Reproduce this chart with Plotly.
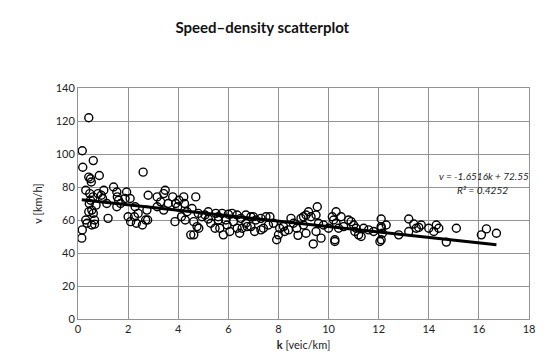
import plotly.graph_objects as go

density_k = [
    0.15, 0.17, 0.17, 0.19, 0.43, 0.31, 0.31, 0.36, 0.43, 0.5, 0.53, 0.61, 0.85, 0.43, 0.47, 0.5, 0.55, 0.61,
    0.66, 0.55, 0.66, 0.72, 0.8, 0.93, 0.98, 1.03, 0.45, 0.6,
    1.2, 1.15, 1.42, 1.55, 1.57, 1.55, 1.62, 1.88, 1.94, 2.0, 2.08, 2.1, 2.25, 2.28, 2.33, 2.6, 2.57, 2.75,
    2.78, 2.8, 2.7, 1.7, 2.4,
    3.16, 3.16, 3.42, 3.48, 3.42, 3.78, 3.87, 3.9, 3.98, 4.03, 4.13, 4.22, 4.28, 4.25, 4.5, 4.62, 4.7, 4.75,
    4.82, 4.55, 4.62, 4.95, 4.35, 4.8, 3.6, 3.3,
    5.07, 5.2, 5.47, 5.6, 5.66, 5.8, 5.95, 6.06, 5.5, 5.75, 6.0, 6.15, 6.35, 6.7, 6.2, 6.35, 6.55, 6.7, 6.75,
    6.9, 7.05, 7.3, 7.4, 7.1, 7.3, 7.5, 7.66, 7.93, 8.0, 8.05, 8.2, 8.25, 8.4, 8.5, 5.3, 5.9, 6.5, 7.0, 7.8,
    6.45, 7.6, 5.2, 5.6, 6.9,
    8.73, 8.78, 8.9, 9.0, 9.1, 9.2, 9.3, 9.5, 9.55, 9.39, 9.1, 9.5, 9.7, 10.15, 10.2, 10.3, 10.3, 10.25, 10.25,
    10.8, 10.9, 11.0, 11.05, 11.2, 11.4, 11.6, 12.1, 12.15, 12.05, 9.8, 10.0, 10.6, 11.3, 11.8, 8.6, 9.0,
    10.5, 11.1, 9.6, 10.4,
    12.1, 12.3, 12.1, 12.1, 12.8, 13.2, 13.2, 13.4, 13.5, 13.6, 13.7, 14.0, 14.2, 14.3, 14.4, 14.7, 15.1,
    16.1, 16.3, 16.7,
]
speed_v = [
    49, 54, 102, 92, 122, 78, 60, 58, 86, 85, 83, 96, 87, 65, 76, 72, 66, 64,
    60, 57, 57.5, 69, 76, 75, 73, 78, 70, 74,
    61, 70, 80, 77, 74, 68, 72, 73, 77, 62, 73, 59, 62, 68, 58, 89, 57, 66,
    60, 75, 60, 70, 64,
    74, 68, 76, 78, 66, 74, 59, 70, 68, 72, 62, 74, 60, 70, 51, 51, 74, 56,
    55, 67, 59, 62, 65, 64, 70, 71,
    63, 60.6, 55, 62, 55, 51, 57, 53, 64, 64, 63.5, 64, 63, 63, 59, 55, 55, 58, 56,
    56, 53, 54, 55, 60, 61, 62, 62, 48, 51, 55, 56, 53, 54, 61, 58, 60, 61, 62, 58,
    52, 57, 65, 60, 62,
    55, 50.7, 61, 62, 63, 65, 62, 63, 68, 45.5, 52, 53, 49, 62, 60, 65, 58, 48, 47,
    60, 59, 57, 53, 51, 55, 54, 56, 52, 47, 57, 55, 56, 50, 53, 58, 57,
    62, 55, 58, 55,
    60.6, 57, 55, 48, 51, 60.6, 53, 57.6, 55, 55.5, 57, 55, 53, 57, 55, 46.6, 55,
    51, 54.6, 52,
]

slope = -1.6516
intercept = 72.55
r_squared = 0.4252

x_ticks = [0, 2, 4, 6, 8, 10, 12, 14, 16, 18]
y_ticks = [0, 20, 40, 60, 80, 100, 120, 140]

font_family = "Lato, 'Open Sans', sans-serif"

k_min = min(density_k)
k_max = max(density_k)

fig = go.Figure()
fig.add_trace(go.Scatter(
    x=density_k, y=speed_v, mode="markers",
    marker=dict(symbol="circle-open", size=8, color="black", line=dict(width=1.4, color="black")),
    showlegend=False, hoverinfo="x+y",
))
fig.add_trace(go.Scatter(
    x=[k_min, k_max], y=[slope * k_min + intercept, slope * k_max + intercept],
    mode="lines", line=dict(color="black", width=3), showlegend=False,
))

fig.update_layout(
    width=550, height=361,
    margin=dict(l=78, r=21, t=88, b=42),
    paper_bgcolor="white", plot_bgcolor="white",
    font=dict(family=font_family, size=11, color="#222"),
    title=dict(text="<b>Speed–density scatterplot</b>", x=0.477, xref="container", xanchor="center",
               y=0.922, yref="container", yanchor="middle",
               font=dict(size=15, color="#111", family=font_family)),
    xaxis=dict(range=[0, 18], tickvals=x_ticks, showgrid=True, gridcolor="#939393", gridwidth=1,
               zeroline=False, showline=True, linecolor="#939393", mirror=True, ticks="",
               title=dict(text="<b>k</b> [veic/km]", standoff=7, font=dict(size=11)),
               tickfont=dict(size=11)),
    yaxis=dict(range=[0, 140], tickvals=y_ticks, showgrid=True, gridcolor="#939393", gridwidth=1,
               zeroline=False, showline=True, linecolor="#939393", mirror=True, ticks="",
               title=dict(text="v [km/h]", standoff=10, font=dict(size=11)),
               tickfont=dict(size=11)),
    annotations=[
        dict(text=f"<i>v = {slope}k + {intercept}</i>", xref="paper", yref="paper",
             x=1.004, y=0.618, xanchor="right", yanchor="middle", showarrow=False,
             font=dict(size=10, color="#222")),
        dict(text=f"<i>R² = {r_squared}</i>", xref="paper", yref="paper",
             x=0.957, y=0.56, xanchor="right", yanchor="middle", showarrow=False,
             font=dict(size=10, color="#222")),
    ],
)

fig.write_html("out.html", config={"displayModeBar": False},
               post_script="document.body.style.margin='0';document.body.style.overflow='hidden';")
